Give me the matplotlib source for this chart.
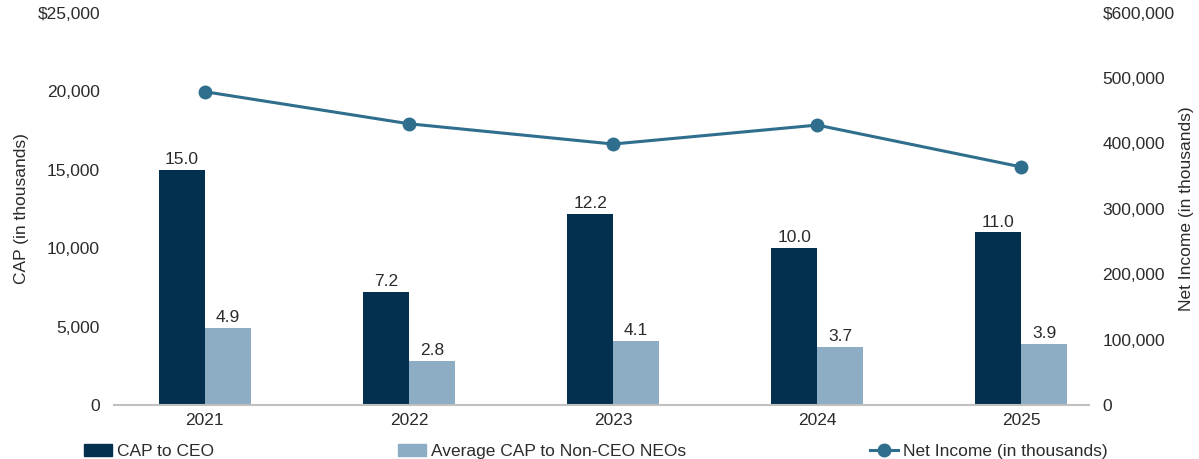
import numpy as np
import matplotlib
matplotlib.use("Agg")
import matplotlib.pyplot as plt
from matplotlib.lines import Line2D
from matplotlib.patches import Patch
from matplotlib.ticker import FuncFormatter

# 数据（单位：千美元）
years = ["2021", "2022", "2023", "2024", "2025"]
cap_ceo = [15.0, 7.2, 12.2, 10.0, 11.0]          # 百万，标签值
cap_neo = [4.9, 2.8, 4.1, 3.7, 3.9]
net_income = [479000, 430000, 399000, 428000, 364000]

left_ticks = [0, 5000, 10000, 15000, 20000, 25000]
right_ticks = [0, 100000, 200000, 300000, 400000, 500000, 600000]

dark = "#03304f"
light = "#8cadc3"
line_c = "#2f6e8d"
text_c = "#2b2b2b"

plt.rcParams["font.family"] = ["Liberation Sans", "DejaVu Sans"]
plt.rcParams["font.size"] = 12.5

fig = plt.figure(figsize=(11.99, 4.59), dpi=100)
ax = fig.add_axes([0.095, 0.1176, 0.813, 0.855])
ax2 = ax.twinx()

x = np.arange(len(years))
w = 0.225
b1 = ax.bar(x - w / 2, np.array(cap_ceo) * 1000, w, color=dark, zorder=2)
b2 = ax.bar(x + w / 2, np.array(cap_neo) * 1000, w, color=light, zorder=2)

for bars, vals in ((b1, cap_ceo), (b2, cap_neo)):
    for rect, v in zip(bars, vals):
        ax.annotate(f"{v:.1f}", (rect.get_x() + rect.get_width() / 2, rect.get_height()),
                    xytext=(0, 2), textcoords="offset points",
                    ha="center", va="bottom", color=text_c)

ax2.plot(x, net_income, color=line_c, linewidth=2.2, marker="o", markersize=9, zorder=3)

ax.set_xlim(-0.446, 4.33)
ax.set_ylim(0, 25000)
ax2.set_ylim(0, 600000)
ax.set_yticks(left_ticks)
ax2.set_yticks(right_ticks)
ax.yaxis.set_major_formatter(FuncFormatter(
    lambda v, p: f"${v:,.0f}" if v == left_ticks[-1] else f"{v:,.0f}"))
ax2.yaxis.set_major_formatter(FuncFormatter(
    lambda v, p: f"${v:,.0f}" if v == right_ticks[-1] else f"{v:,.0f}"))
ax.set_xticks(x)
ax.set_xticklabels(years)

for a in (ax, ax2):
    for s in a.spines.values():
        s.set_visible(False)
    a.tick_params(length=0, colors=text_c)
ax.spines["bottom"].set_visible(True)
ax.spines["bottom"].set_color("#c0c0c0")
ax.spines["bottom"].set_linewidth(1.5)
ax.tick_params(axis="y", pad=10)
ax.tick_params(axis="x", pad=6)
ax2.tick_params(axis="y", pad=10)

ax.set_ylabel("CAP (in thousands)", color=text_c, labelpad=6)
ax2.set_ylabel("Net Income (in thousands)", color=text_c, labelpad=3)

handles = [
    Patch(color=dark, label="CAP to CEO"),
    Patch(color=light, label="Average CAP to Non-CEO NEOs"),
    Line2D([], [], color=line_c, linewidth=2.2, marker="o", markersize=9,
           label="Net Income (in thousands)"),
]
fig.legend(handles=handles, loc="lower left", bbox_to_anchor=(0.057, -0.035), ncol=3,
           frameon=False, handlelength=1.6, handletextpad=0.3, columnspacing=10.6,
           labelcolor=text_c)

fig.savefig("out.png", dpi=100)
